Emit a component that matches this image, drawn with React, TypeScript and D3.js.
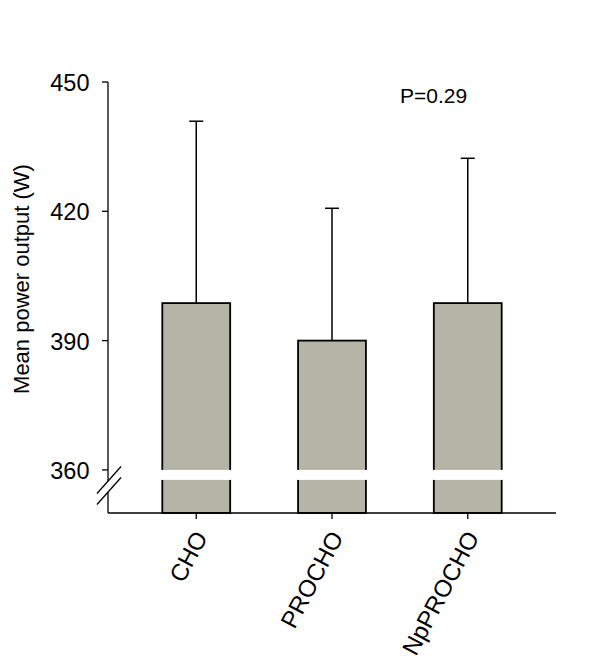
import React, { useEffect, useRef } from "react";
import * as d3 from "d3";

// group means and upper error (mean + SD)
const categories = ["CHO", "PROCHO", "NpPROCHO"];
const means = [398.7, 390.0, 398.7];
const sds = [42.2, 30.7, 33.6];
const yTicks = [360, 390, 420, 450];
const breakValue = 360;
const pLabel = "P=0.29";

const App = () => {
  const ref = useRef<SVGSVGElement>(null);

  useEffect(() => {
    const svg = d3.select(ref.current);
    svg.selectAll("*").remove();

    const font = "Arial, 'Liberation Sans', sans-serif";
    const axisX = 108, axisRight = 556;

    const x = d3.scaleBand<string>()
      .domain(categories)
      .range([axisX, axisRight])
      .paddingInner(0.5)
      .paddingOuter(0.4);

    const y = d3.scaleLinear().domain([350, 450]).range([513, 82]);
    const base = y(350);

    const data = categories.map((c, i) => ({ c, m: means[i], sd: sds[i] }));

    // error bars (behind bars)
    const err = svg.append("g").attr("stroke", "#000").attr("stroke-width", 1.5);
    data.forEach(d => {
      const cx = x(d.c)! + x.bandwidth() / 2;
      err.append("line").attr("x1", cx).attr("x2", cx).attr("y1", y(d.m)).attr("y2", y(d.m + d.sd));
      err.append("line").attr("x1", cx - 7).attr("x2", cx + 7).attr("y1", y(d.m + d.sd)).attr("y2", y(d.m + d.sd));
    });

    // bars
    svg.append("g")
      .selectAll("rect")
      .data(data)
      .join("rect")
      .attr("x", d => x(d.c)!)
      .attr("y", d => y(d.m))
      .attr("width", x.bandwidth())
      .attr("height", d => base - y(d.m))
      .attr("fill", "#b4b4a7")
      .attr("stroke", "#000")
      .attr("stroke-width", 1.8);

    // white break band through bars
    svg.append("g")
      .selectAll("rect")
      .data(data)
      .join("rect")
      .attr("x", d => x(d.c)! - 2)
      .attr("y", y(breakValue))
      .attr("width", x.bandwidth() + 4)
      .attr("height", 10)
      .attr("fill", "#fff");

    const ax = svg.append("g").attr("stroke", "#000").attr("stroke-width", 1.3);
    // y axis with gap for break
    ax.append("line").attr("x1", axisX).attr("x2", axisX).attr("y1", y(450)).attr("y2", 481);
    ax.append("line").attr("x1", axisX).attr("x2", axisX).attr("y1", 492).attr("y2", base);
    // break marks
    [481, 492].forEach(yy => {
      ax.append("line")
        .attr("x1", axisX - 11).attr("y1", yy + 12.5)
        .attr("x2", axisX + 13).attr("y2", yy - 14.5);
    });
    // x axis
    ax.append("line").attr("x1", axisX).attr("x2", axisRight).attr("y1", base).attr("y2", base);

    // y ticks
    yTicks.forEach(t => {
      ax.append("line").attr("x1", axisX - 6).attr("x2", axisX).attr("y1", y(t)).attr("y2", y(t));
      svg.append("text")
        .attr("x", 89.5).attr("y", y(t) + 9)
        .attr("text-anchor", "end")
        .attr("font-family", font).attr("font-size", 23.5)
        .text(t);
    });

    // x ticks and labels
    categories.forEach(c => {
      const cx = x(c)! + x.bandwidth() / 2;
      ax.append("line").attr("x1", cx).attr("x2", cx).attr("y1", base).attr("y2", base + 6);
      svg.append("text")
        .attr("transform", `translate(${cx + 12},${base + 24}) rotate(-62)`)
        .attr("text-anchor", "end")
        .attr("font-family", font).attr("font-size", 24)
        .text(c);
    });

    // y label
    svg.append("text")
      .attr("transform", `translate(29,${279}) rotate(-90)`)
      .attr("text-anchor", "middle")
      .attr("font-family", font).attr("font-size", 22)
      .text("Mean power output (W)");

    // p value
    svg.append("text")
      .attr("x", 400).attr("y", 103)
      .attr("font-family", font).attr("font-size", 21)
      .text(pLabel);
  }, []);

  return (
    <svg
      ref={ref}
      width={600}
      height={664}
      style={{ position: "absolute", left: 0, top: 0, background: "#fff" }}
    />
  );
};

export default App;
